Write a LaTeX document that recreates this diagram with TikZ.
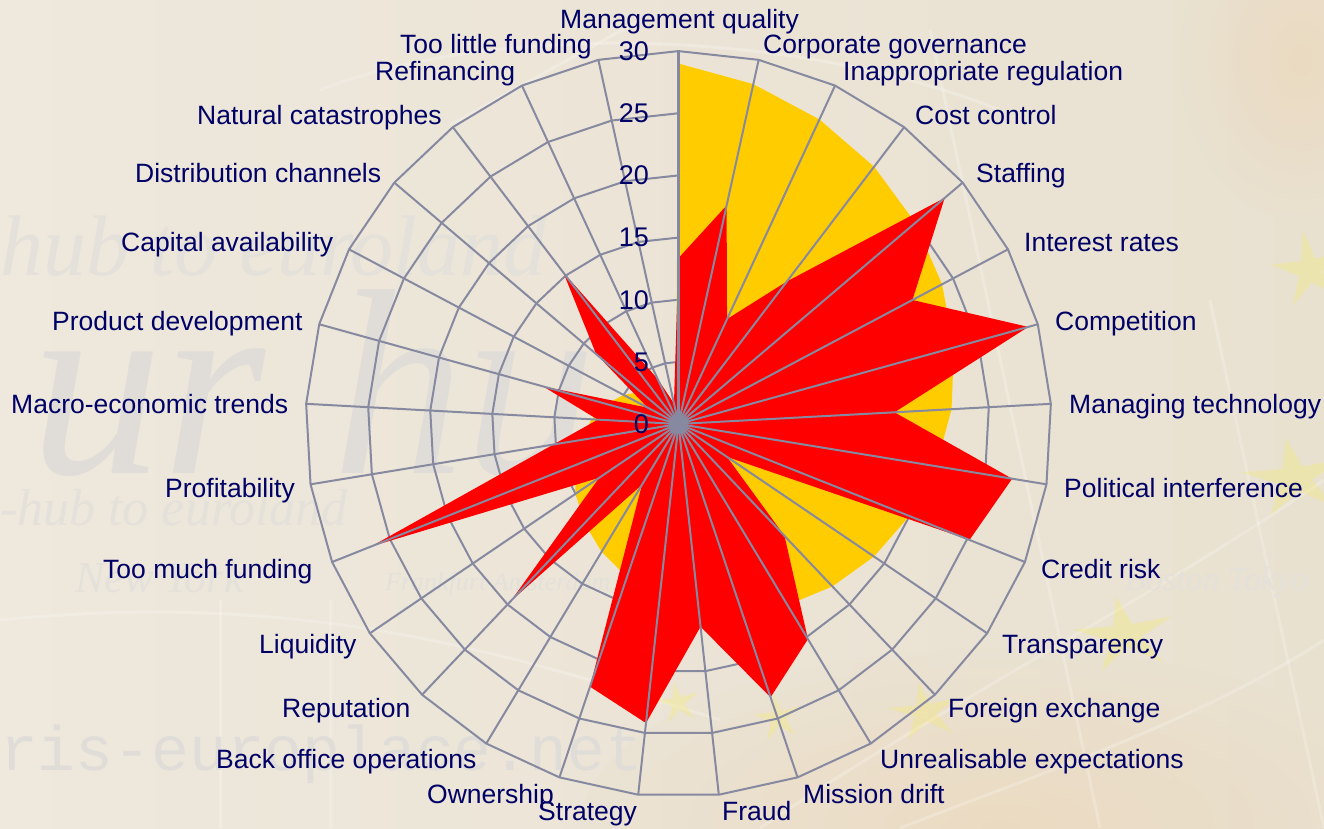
\documentclass[tikz,border=0pt]{standalone}
\usepackage{fontspec}
\setmainfont{Liberation Sans}
\newfontfamily\wmserif{Liberation Serif}
\newfontfamily\wmmono{Liberation Mono}
\usetikzlibrary{shapes.geometric}
\definecolor{gridc}{HTML}{8689A0}
\definecolor{navy}{HTML}{000066}
\definecolor{amber}{HTML}{FFCC00}
\definecolor{redc}{HTML}{FF0000}
\definecolor{bgl}{HTML}{EEE8DD}
\definecolor{bgr}{HTML}{E9E1D0}
\definecolor{wm}{HTML}{E4E0DA}
\definecolor{wmb}{HTML}{E0DDD9}
\tikzset{
  x=1pt,y=1pt,
  lab/.style={anchor=base west,inner sep=0pt,text=navy,font=\fontsize{26.5}{30}\selectfont},
  tick/.style={anchor=base east,inner sep=0pt,text=navy,font=\fontsize{27}{30}\selectfont},
  ring/.style={draw=gridc,line width=2pt,line join=round},
  spoke/.style={draw=gridc,line width=2pt},
  wmark/.style={anchor=base west,inner sep=0pt,text=wm},
  pale/.style={draw=white,opacity=.22,line width=3pt},
  flag/.style={star,star points=5,star point ratio=3.2,fill=yellow!55!bgr,opacity=.3,inner sep=0pt},
}
\begin{document}
\begin{tikzpicture}
\useasboundingbox (0,0) rectangle (1324,-828);
\begin{scope}
\clip (0,0) rectangle (1324,-828);
\fill[left color=bgl,right color=bgr] (0,0) rectangle (1324,-828);
\shade[inner color=orange!22!bgr,outer color=bgr,opacity=.35] (1000,-828) ellipse (420 and 180);
\shade[inner color=orange!20!bgr,outer color=bgr,opacity=.35] (1300,-60) ellipse (120 and 160);
% pale globe lines
\draw[pale] (320,-90) .. controls (500,-20) and (800,-30) .. (1000,-110);
\draw[pale] (450,-125) -- (640,-20);
\draw[pale] (930,-30) -- (1100,-828);
\draw[pale] (1210,-300) -- (1324,-828);
\draw[pale] (760,-828) .. controls (950,-700) and (1150,-600) .. (1324,-480);
\draw[pale] (900,-828) .. controls (1050,-770) and (1200,-720) .. (1324,-640);
\draw[pale] (220,-600) -- (220,-828);
\draw[pale] (330,-600) -- (330,-828);
\draw[pale] (0,-620) .. controls (300,-590) and (500,-650) .. (720,-720);
% flags
\node[flag,minimum size=105pt,yscale=.75,rotate=10] (s1) at (1125,-635) {};
\node[flag,minimum size=75pt,yscale=.8,rotate=10] (s2) at (925,-712) {};
\node[flag,minimum size=45pt,rotate=10] (s3) at (678,-703) {};
\node[flag,minimum size=50pt,rotate=10] (s4) at (778,-718) {};
\node[flag,minimum size=110pt,yscale=.75,rotate=10] (s5) at (1295,-478) {};
\node[flag,minimum size=80pt,rotate=10] (s6) at (1310,-270) {};
% watermark
\node[wmark,font=\wmserif\itshape\fontsize{86}{90}\selectfont] (w1) at (0,-275) {hub to euroland};
\node[wmark,text=wmb,font=\wmserif\itshape\fontsize{265}{265}\selectfont] (w2) at (30,-473) {ur hu};
\node[wmark,font=\wmserif\itshape\fontsize{52}{56}\selectfont] (w3) at (0,-525) {-hub to euroland};
\node[wmark,font=\wmserif\itshape\fontsize{44}{48}\selectfont] (w4) at (75,-592) {New York};
\node[wmark,font=\wmserif\itshape\fontsize{26}{30}\selectfont] (w5) at (385,-590) {Frankfurt Amsterdam};
\node[wmark,font=\wmserif\itshape\fontsize{34}{38}\selectfont] (w6) at (1125,-590) {Boston Tokyo};
\node[wmark,text=wmb,font=\wmmono\fontsize{63}{66}\selectfont] (w7) at (0,-770) {ris-europlace.net};
\end{scope}
% coordinates
\begin{scope}[shift={(678.5,-424)}]
\def\U{12.43}
\foreach \v [count=\n from 0] in {13.35,18.0,9.3,14.4,28.1,21.3,29.2,17.4,27.2,25.2,4.7,12.4,20.2,23.2,16.4,24.2,22.3,5.7,19.6,7.7,26.6,10.2,6.5,11.3,2.8,8.7,15.3,4,1.7}{
  \pgfmathsetmacro\ang{90-\n*360/29}
  \pgfmathsetmacro\ry{(29-\n)*\U}
  \pgfmathsetmacro\rr{\v*\U}
  \coordinate (y\n) at (\ang:\ry);
  \coordinate (r\n) at (\ang:\rr);
  \coordinate (e\n) at (\ang:373);
  \foreach \k in {1,...,6}{
    \pgfmathsetmacro\rk{\k*5*\U}
    \coordinate (g\k-\n) at (\ang:\rk);
  }
}
\coordinate (c) at (0,0);
\end{scope}
% rings
\foreach \k in {1,...,6}{
  \draw[ring] (g\k-0) \foreach \n in {1,...,28}{ -- (g\k-\n) } -- cycle;
}
% series
\fill[amber] (y0) \foreach \n in {1,...,28}{ -- (y\n) } -- cycle;
\fill[redc] (r0) \foreach \n in {1,...,28}{ -- (r\n) } -- cycle;
% spokes
\foreach \n in {1,...,28}{ \draw[spoke] (c) -- (e\n); }
\draw[spoke,line width=3pt] (c) -- (e0);
\fill[gridc] (c) circle (10);
% tick labels
\foreach \t [count=\m from 0] in {30,25,20,15,10,5,0}{
  \pgfmathsetmacro\ty{-60-62.25*\m}
  \node[tick] (t\t) at (649,\ty) {\t};
}
% category labels
\node[lab] (l0) at (560,-28) {Management quality};
\node[lab] (l1) at (763,-53) {Corporate governance};
\node[lab] (l2) at (843,-80) {Inappropriate regulation};
\node[lab] (l3) at (915,-124) {Cost control};
\node[lab] (l4) at (976,-182) {Staffing};
\node[lab] (l5) at (1024,-251) {Interest rates};
\node[lab] (l6) at (1055,-330) {Competition};
\node[lab] (l7) at (1069,-413) {Managing technology};
\node[lab] (l8) at (1064,-497) {Political interference};
\node[lab] (l9) at (1041,-578) {Credit risk};
\node[lab] (l10) at (1002,-653) {Transparency};
\node[lab] (l11) at (948,-717) {Foreign exchange};
\node[lab] (l12) at (880,-768) {Unrealisable expectations};
\node[lab] (l13) at (803,-803) {Mission drift};
\node[lab] (l14) at (722,-820) {Fraud};
\node[lab] (l15) at (538,-820) {Strategy};
\node[lab] (l16) at (427,-803) {Ownership};
\node[lab] (l17) at (216,-768) {Back office operations};
\node[lab] (l18) at (282,-717) {Reputation};
\node[lab] (l19) at (259,-653) {Liquidity};
\node[lab] (l20) at (103,-578) {Too much funding};
\node[lab] (l21) at (165,-497) {Profitability};
\node[lab] (l22) at (11,-413) {Macro-economic trends};
\node[lab] (l23) at (52,-330) {Product development};
\node[lab] (l24) at (121,-251) {Capital availability};
\node[lab] (l25) at (135,-182) {Distribution channels};
\node[lab] (l26) at (197,-124) {Natural catastrophes};
\node[lab] (l27) at (375,-80) {Refinancing};
\node[lab] (l28) at (400,-53) {Too little funding};
\end{tikzpicture}
\end{document}
